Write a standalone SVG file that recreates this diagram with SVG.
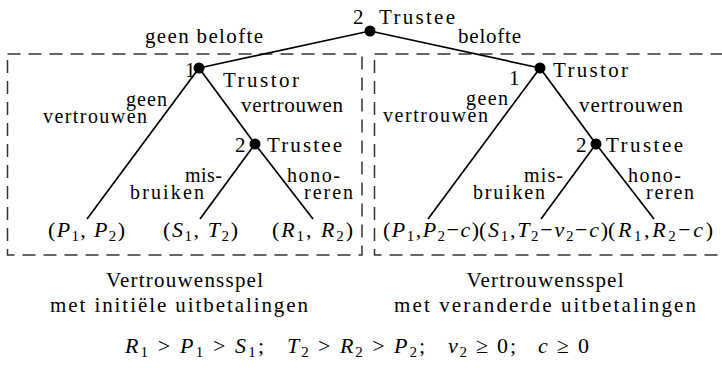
<svg xmlns="http://www.w3.org/2000/svg" width="722" height="368" viewBox="0 0 722 368">
<style>
text{font-family:'Liberation Serif',Tinos,'DejaVu Serif','Noto Serif',FreeSerif,'Nimbus Roman','Times New Roman',Times,Georgia,serif;font-size:21px;fill:#000}
.i{font-style:italic}
.s{font-size:15px;font-style:normal}
.m{font-size:22px}
.lb{font-size:20px}
.edge{stroke:#000;stroke-width:1.7;fill:none}
.box{stroke:#333;stroke-width:1.5;fill:none;stroke-dasharray:13 8}
.dot{fill:#000}
</style>
<rect width="722" height="368" fill="#fff"/>
<g id="boxes">
<rect class="box" x="7.5" y="54" width="354.5" height="201"/>
<rect class="box" x="374.5" y="54" width="354.5" height="201"/>
</g>
<g id="connectors">
<line class="edge" x1="370" y1="31" x2="199" y2="68"/>
<line class="edge" x1="370" y1="31" x2="540" y2="68"/>
<line class="edge" x1="199" y1="68" x2="87" y2="219"/>
<line class="edge" x1="199" y1="68" x2="255" y2="144"/>
<line class="edge" x1="255" y1="144" x2="200" y2="219"/>
<line class="edge" x1="255" y1="144" x2="313" y2="219"/>
<line class="edge" x1="540" y1="68" x2="428" y2="219"/>
<line class="edge" x1="540" y1="68" x2="596" y2="144"/>
<line class="edge" x1="596" y1="144" x2="541" y2="219"/>
<line class="edge" x1="596" y1="144" x2="654" y2="219"/>
<text x="145" y="43" textLength="118">geen belofte</text>
<text x="458" y="43" textLength="63">belofte</text>
<text class="lb"><tspan x="126" y="106" textLength="41">geen</tspan><tspan x="43" y="123" textLength="104">vertrouwen</tspan></text>
<text x="241" y="112" textLength="102">vertrouwen</text>
<text class="lb"><tspan x="466" y="105" textLength="42">geen</tspan><tspan x="383" y="122" textLength="105">vertrouwen</tspan></text>
<text x="579" y="112" textLength="104">vertrouwen</text>
<text class="lb"><tspan x="185" y="182" textLength="37">mis-</tspan><tspan x="130" y="199" textLength="74">bruiken</tspan></text>
<text class="lb"><tspan x="287" y="182" textLength="53">hono-</tspan><tspan x="304" y="199" textLength="49">reren</tspan></text>
<text class="lb"><tspan x="524" y="182" textLength="39">mis-</tspan><tspan x="473" y="199" textLength="72">bruiken</tspan></text>
<text class="lb"><tspan x="628" y="182" textLength="53">hono-</tspan><tspan x="646" y="199" textLength="48">reren</tspan></text>
</g>
<g id="root">
<circle class="dot" cx="370" cy="31" r="5.5"/>
<text x="353" y="24">2</text>
<text x="379" y="24" textLength="76">Trustee</text>
</g>
<g id="trustor-left">
<circle class="dot" cx="199" cy="68" r="5.5"/>
<text x="185" y="77">1</text>
<text x="223" y="87" textLength="76">Trustor</text>
</g>
<g id="trustor-right">
<circle class="dot" cx="540" cy="68" r="5.5"/>
<text x="509" y="85">1</text>
<text x="553" y="77" textLength="75">Trustor</text>
</g>
<g id="trustee-left">
<circle class="dot" cx="255" cy="144" r="5.5"/>
<text x="235" y="152">2</text>
<text x="267" y="152" textLength="75">Trustee</text>
</g>
<g id="trustee-right">
<circle class="dot" cx="596" cy="144" r="5.5"/>
<text x="576" y="152">2</text>
<text x="606" y="152" textLength="77">Trustee</text>
</g>
<g id="leaf-l1"><text class="m" x="48" y="237" textLength="77">(<tspan class="i">P</tspan><tspan class="s" dy="4">1</tspan><tspan dy="-4">, </tspan><tspan class="i">P</tspan><tspan class="s" dy="4">2</tspan><tspan dy="-4">)</tspan></text></g>
<g id="leaf-l2"><text class="m" x="163" y="237" textLength="75">(<tspan class="i">S</tspan><tspan class="s" dy="4">1</tspan><tspan dy="-4">, </tspan><tspan class="i">T</tspan><tspan class="s" dy="4">2</tspan><tspan dy="-4">)</tspan></text></g>
<g id="leaf-l3"><text class="m" x="272" y="237" textLength="81">(<tspan class="i">R</tspan><tspan class="s" dy="4">1</tspan><tspan dy="-4">, </tspan><tspan class="i">R</tspan><tspan class="s" dy="4">2</tspan><tspan dy="-4">)</tspan></text></g>
<g id="leaf-r1"><text class="m" x="383" y="237" textLength="96">(<tspan class="i">P</tspan><tspan class="s" dy="4">1</tspan><tspan dy="-4">,</tspan><tspan class="i">P</tspan><tspan class="s" dy="4">2</tspan><tspan dy="-4">−</tspan><tspan class="i">c</tspan>)</text></g>
<g id="leaf-r2"><text class="m" x="479" y="237" textLength="129">(<tspan class="i">S</tspan><tspan class="s" dy="4">1</tspan><tspan dy="-4">,</tspan><tspan class="i">T</tspan><tspan class="s" dy="4">2</tspan><tspan dy="-4">−</tspan><tspan class="i">v</tspan><tspan class="s" dy="4">2</tspan><tspan dy="-4">−</tspan><tspan class="i">c</tspan>)</text></g>
<g id="leaf-r3"><text class="m" x="608" y="237" textLength="105">(<tspan class="i">R</tspan><tspan class="s" dy="4">1</tspan><tspan dy="-4">,</tspan><tspan class="i">R</tspan><tspan class="s" dy="4">2</tspan><tspan dy="-4">−</tspan><tspan class="i">c</tspan>)</text></g>
<g id="captions">
<text x="184.5" y="287" text-anchor="middle" textLength="157">Vertrouwensspel</text>
<text x="179" y="312" text-anchor="middle" textLength="258">met initiële uitbetalingen</text>
<text x="545" y="287" text-anchor="middle" textLength="157">Vertrouwensspel</text>
<text x="545" y="312" text-anchor="middle" textLength="302">met veranderde uitbetalingen</text>
</g>
<g id="formula">
<text class="m" x="125" y="353" textLength="139"><tspan class="i">R</tspan><tspan class="s" dy="4">1</tspan><tspan dy="-4"> &gt; </tspan><tspan class="i">P</tspan><tspan class="s" dy="4">1</tspan><tspan dy="-4"> &gt; </tspan><tspan class="i">S</tspan><tspan class="s" dy="4">1</tspan><tspan dy="-4">;</tspan></text>
<text class="m" x="287" y="353" textLength="138"><tspan class="i">T</tspan><tspan class="s" dy="4">2</tspan><tspan dy="-4"> &gt; </tspan><tspan class="i">R</tspan><tspan class="s" dy="4">2</tspan><tspan dy="-4"> &gt; </tspan><tspan class="i">P</tspan><tspan class="s" dy="4">2</tspan><tspan dy="-4">;</tspan></text>
<text class="m" x="448" y="353" textLength="68"><tspan class="i">v</tspan><tspan class="s" dy="4">2</tspan><tspan dy="-4"> ≥ 0;</tspan></text>
<text class="m" x="538" y="353" textLength="51"><tspan class="i">c</tspan> ≥ 0</text>
</g>
</svg>
